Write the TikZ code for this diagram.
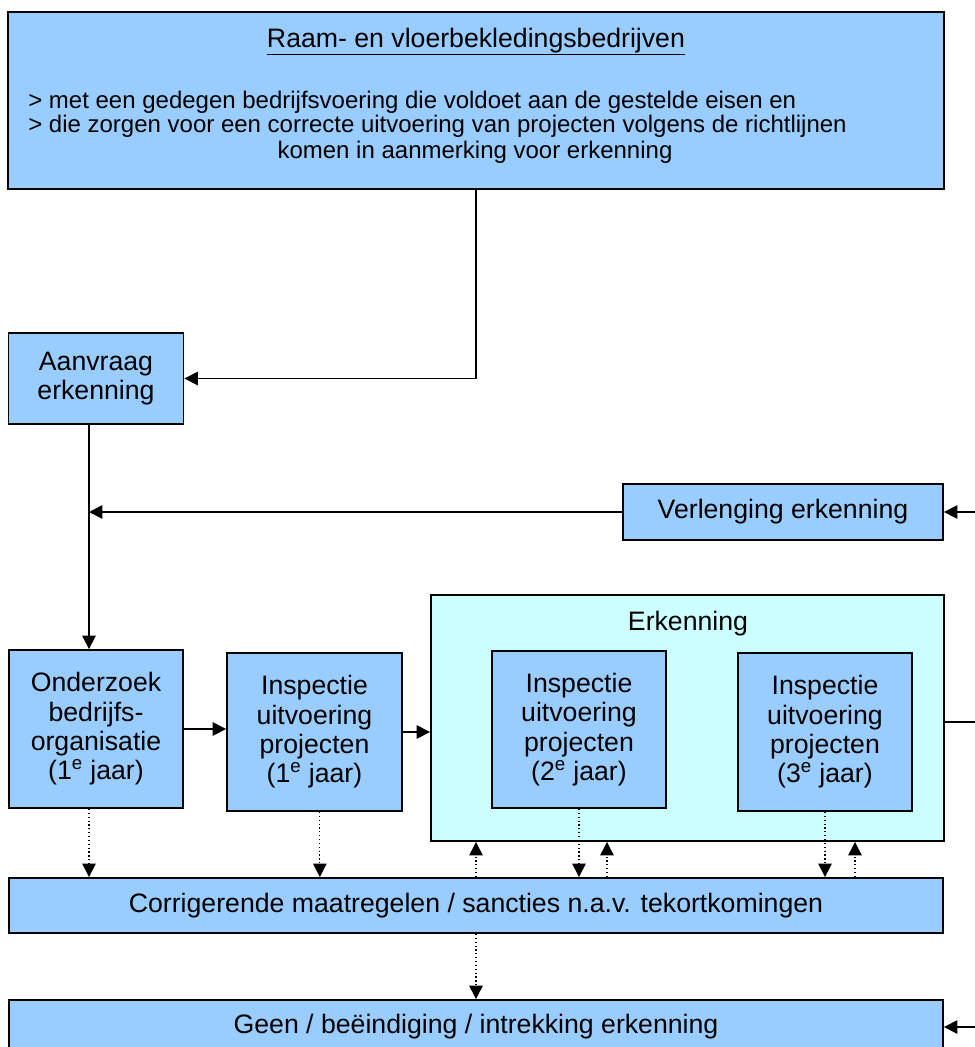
\documentclass[tikz,border=0pt]{standalone}
\usepackage{fontspec}
\setmainfont{Liberation Sans}
\usetikzlibrary{arrows.meta,calc}
\definecolor{boxblue}{HTML}{99CCFF}
\definecolor{erkcyan}{HTML}{CCFFFF}

\begin{document}
\begin{tikzpicture}[x=0.75pt,y=-0.75pt,>={Triangle[length=10pt,width=10pt]}]
	% `block' is used for the blue boxes, `frame' for the Erkenning box.
	% `flow' is used for the solid arrows, `check' for the dotted ones.
	\tikzstyle{block} = [draw,fill=boxblue,line width=1.4pt,inner sep=0pt,align=center,font=\fontsize{20}{22}\selectfont]
	\tikzstyle{frame} = [block,fill=erkcyan]
	\tikzstyle{flow} = [line width=1.2pt,->]
	\tikzstyle{check} = [line width=0.9pt,dotted,->]
	\tikzstyle{small} = [inner sep=0pt,font=\fontsize{18}{19}\selectfont]
	%
	\clip (0,0) rectangle (975,1047);
	% Top box with its texts.
	\node[block,minimum width=702pt,minimum height=132.75pt] (top) at (476,100.5) {};
	\node[inner sep=0pt,anchor=base,font=\fontsize{20}{22}\selectfont] (title) at (476,47) {\underline{Raam- en vloerbekledingsbedrijven}};
	\node[small,anchor=base west] (eis1) at (28,108) {> met een gedegen bedrijfsvoering die voldoet aan de gestelde eisen en};
	\node[small,anchor=base west] (eis2) at (28,132) {> die zorgen voor een correcte uitvoering van projecten volgens de richtlijnen};
	\node[small,anchor=base] (eis3) at (475,158) {komen in aanmerking voor erkenning};
	% Left column.
	\node[block,minimum width=131.25pt,minimum height=68.25pt] (aanvraag) at (96,378.5) {Aanvraag\\erkenning};
	\node[block,minimum width=240pt,minimum height=42pt] (verl) at (783,512) {Verlenging erkenning};
	\node[block,minimum width=130.5pt,minimum height=118.5pt] (onderzoek) at (96,729) {Onderzoek\\bedrijfs-\\organisatie\\(1\textsuperscript{e} jaar)};
	\node[block,minimum width=131.25pt,minimum height=118.5pt] (insp1) at (314.5,732) {Inspectie\\uitvoering\\projecten\\(1\textsuperscript{e} jaar)};
	% Erkenning box.
	\node[frame,minimum width=384.75pt,minimum height=184.5pt] (erk) at (687.5,718) {};
	\node[inner sep=0pt,anchor=base,font=\fontsize{20}{22}\selectfont] (erklabel) at (688,630) {Erkenning};
	\node[block,minimum width=130.5pt,minimum height=117.75pt] (insp2) at (579,729.5) {Inspectie\\uitvoering\\projecten\\(2\textsuperscript{e} jaar)};
	\node[block,minimum width=130.5pt,minimum height=118.5pt] (insp3) at (825,732) {Inspectie\\uitvoering\\projecten\\(3\textsuperscript{e} jaar)};
	% Bottom boxes.
	\node[block,minimum width=700.5pt,minimum height=41.25pt] (corr) at (476,905.5) {Corrigerende maatregelen / sancties n.a.v. tekortkomingen};
	\node[block,minimum width=700.5pt,minimum height=40.5pt] (geen) at (476,1027) {Geen / beëindiging / intrekking erkenning};
	% Free ends on the right and the trunk line.
	\coordinate (trunk) at (89,0);
	\coordinate (rin1) at (990,512);
	\coordinate (rout) at (990,722);
	\coordinate (rin2) at (990,1027);
	% Solid lines.
	\draw[flow] (top.south) |- (aanvraag.east);
	\draw[flow] (aanvraag.south -| trunk) -- (onderzoek.north -| trunk);
	\draw[flow] (verl.west) -- (verl.west -| trunk);
	\draw[flow] (rin1) -- (verl.east);
	\draw[flow] (onderzoek.east) -- (onderzoek.east -| insp1.west);
	\draw[flow] (insp1.east) -- (insp1.east -| erk.west);
	\draw[line width=1.2pt] (rout -| erk.east) -- (rout);
	\draw[flow] (rin2) -- (geen.east);
	% Dotted lines.
	\draw[check] (onderzoek.south -| trunk) -- (corr.north -| trunk);
	\draw[check] ([xshift=4pt]insp1.south) -- ([xshift=4pt]insp1.south |- corr.north);
	\draw[check] (corr.north) -- (corr.north |- erk.south);
	\draw[check] (insp2.south) -- (insp2.south |- corr.north);
	\draw[check] ([xshift=21pt]insp2.south |- corr.north) -- ([xshift=21pt]insp2.south |- erk.south);
	\draw[check] (insp3.south) -- (insp3.south |- corr.north);
	\draw[check] ([xshift=22.5pt]insp3.south |- corr.north) -- ([xshift=22.5pt]insp3.south |- erk.south);
	\draw[check] (corr.south) -- (geen.north);
%
\end{tikzpicture}
\end{document}
